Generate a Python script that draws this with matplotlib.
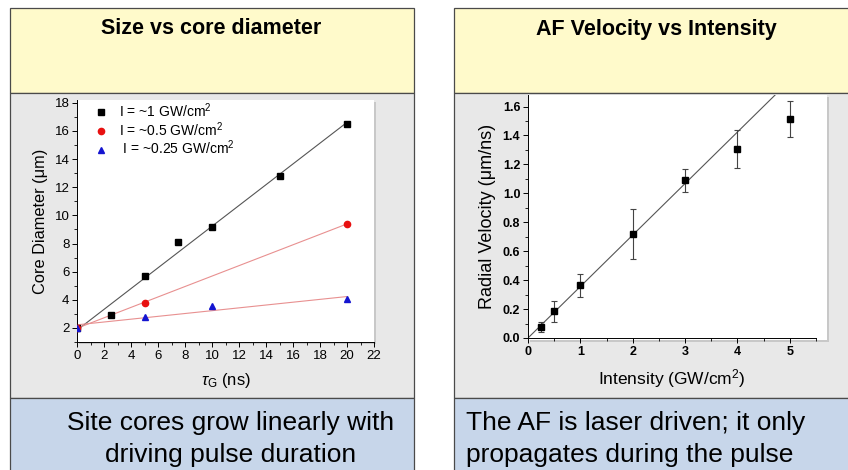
import numpy as np
import matplotlib
matplotlib.use("Agg")
import matplotlib.pyplot as plt
from matplotlib.patches import Rectangle
from matplotlib.ticker import MultipleLocator, FormatStrFormatter

plt.rcParams['font.family'] = ['Liberation Sans', 'DejaVu Sans']
plt.rcParams['mathtext.fontset'] = 'custom'
plt.rcParams['mathtext.rm'] = 'Liberation Sans'
plt.rcParams['mathtext.it'] = 'Liberation Sans:italic'

# Datos del panel izquierdo: diametro del nucleo frente a duracion del pulso
tau_1 = [0, 2.5, 5, 7.5, 10, 15, 20]
core_1 = [2.0, 2.9, 5.7, 8.1, 9.2, 12.8, 16.5]
tau_05 = [0, 5, 20]
core_05 = [2.0, 3.8, 9.4]
tau_025 = [0, 5, 10, 20]
core_025 = [2.0, 2.8, 3.55, 4.05]
labels_left = ["I = ~1 GW/cm$^2$", "I = ~0.5 GW/cm$^2$", " I = ~0.25 GW/cm$^2$"]

# Datos del panel derecho: velocidad radial frente a intensidad
intensity = [0.25, 0.5, 1, 2, 3, 4, 5]
velocity = [0.075, 0.185, 0.365, 0.72, 1.09, 1.305, 1.515]
vel_err = [0.036, 0.072, 0.08, 0.175, 0.078, 0.13, 0.125]
fit_slope = 0.356

titles = ["Size vs core diameter", "AF Velocity vs Intensity"]
captions_left = ["Site cores grow linearly with", "driving pulse duration"]
captions_right = ["The AF is laser driven; it only", "propagates during the pulse"]

W, H = 848, 470
fig = plt.figure(figsize=(W / 100, H / 100), dpi=100)


def box(x0, y0, x1, y1, color, z=0, ec='#4a4a4a', lw=0.9):
    # rectangulo en pixeles (origen arriba a la izquierda)
    r = Rectangle((x0 / W, 1 - y1 / H), (x1 - x0) / W, (y1 - y0) / H,
                  transform=fig.transFigure, facecolor=color, edgecolor=ec,
                  linewidth=lw, zorder=z)
    fig.add_artist(r)


# Cajas de fondo
for x0, x1 in [(9.5, 414), (454, 860)]:
    box(x0, 7.5, x1, 93, '#fffacb')
    box(x0, 93, x1, 398, '#e8e8e8')
    box(x0, 398, x1, 480, '#c7d6ea')

# Sombras y fondos blancos de los graficos
box(79, 102, 376, 344, '#c8c8c8', ec='none')
box(77, 100, 374, 342, 'white', ec='none')
box(530, 97, 829, 342, '#c8c8c8', ec='none')
box(528, 95, 827, 340, 'white', ec='none')

fig.text(211 / W, 1 - 29 / H, titles[0], ha='center', va='center',
         fontsize=15.5, fontweight='bold')
fig.text(656 / W, 1 - 29 / H, titles[1], ha='center', va='center',
         fontsize=15.5, fontweight='bold')
for i, line in enumerate(captions_left):
    fig.text(231 / W, 1 - (430 + 32 * i) / H, line, ha='center',
             va='baseline', fontsize=19)
for i, line in enumerate(captions_right):
    fig.text(466 / W, 1 - (430 + 32 * i) / H, line, ha='left',
             va='baseline', fontsize=19)

# Panel izquierdo
ax1 = fig.add_axes([77 / W, 1 - 342 / H, (374 - 77) / W, (342 - 100) / H])
ax1.patch.set_alpha(0)
ax1.plot(tau_1, core_1, 's', color='black', ms=4.5, label=labels_left[0], zorder=3)
ax1.plot(tau_05, core_05, 'o', color='#e81010', ms=4.5, label=labels_left[1], zorder=3)
ax1.plot(tau_025, core_025, '^', color='#1414d0', ms=5, label=labels_left[2], zorder=3)
xx = np.array([0, 20])
for tx, cy, col in [(tau_1, core_1, '#555555'), (tau_05, core_05, '#e89090'),
                    (tau_025, core_025, '#e89090')]:
    k, b = np.polyfit(tx, cy, 1)
    ax1.plot(xx, k * xx + b, '-', color=col, lw=0.8, zorder=2)
ax1.set_xlim(0, 22)
ax1.set_ylim(1, 18.2)
ax1.xaxis.set_major_locator(MultipleLocator(2))
ax1.xaxis.set_minor_locator(MultipleLocator(1))
ax1.yaxis.set_major_locator(MultipleLocator(2))
ax1.yaxis.set_minor_locator(MultipleLocator(1))
ax1.set_yticks(np.arange(2, 19, 2))
ax1.tick_params(labelsize=9.5, length=3.5, width=0.7, pad=2)
ax1.tick_params(which='minor', length=2, width=0.6)
ax1.set_xlabel(r"$\tau_{\mathrm{G}}$ (ns)", fontsize=12, labelpad=7)
ax1.set_ylabel("Core Diameter (μm)", fontsize=11.8, labelpad=5)
for s in ['top', 'right']:
    ax1.spines[s].set_visible(False)
for s in ['left', 'bottom']:
    ax1.spines[s].set_linewidth(0.7)
ax1.legend(loc='upper left', frameon=False, fontsize=10, handlelength=1,
           handletextpad=0.8, borderaxespad=0.2, labelspacing=0.02,
           bbox_to_anchor=(0.03, 1.03))

# Panel derecho
ax2 = fig.add_axes([528 / W, 1 - 338 / H, (816 - 528) / W, (338 - 95) / H])
ax2.patch.set_alpha(0)
ax2.errorbar(intensity, velocity, yerr=vel_err, fmt='s', color='black', ms=4,
             ecolor='#444444', elinewidth=0.8, capsize=2.5, capthick=0.8, zorder=3)
ax2.axline((0, 0), slope=fit_slope, color='#555555', lw=0.8, zorder=2)
ax2.set_xlim(0, 5.5)
ax2.set_ylim(0, 1.68)
ax2.xaxis.set_major_locator(MultipleLocator(1))
ax2.xaxis.set_minor_locator(MultipleLocator(0.5))
ax2.yaxis.set_major_locator(MultipleLocator(0.2))
ax2.yaxis.set_minor_locator(MultipleLocator(0.1))
ax2.yaxis.set_major_formatter(FormatStrFormatter('%.1f'))
ax2.tick_params(labelsize=9, length=3.5, width=0.7, pad=2)
ax2.tick_params(which='minor', length=2, width=0.6)
for lab in ax2.get_xticklabels() + ax2.get_yticklabels():
    lab.set_fontweight('bold')
ax2.set_xlabel("Intensity (GW/cm$^2$)", fontsize=12.5, labelpad=7)
ax2.set_ylabel("Radial Velocity (μm/ns)", fontsize=13, labelpad=5)
for s in ['top', 'right']:
    ax2.spines[s].set_visible(False)
for s in ['left', 'bottom']:
    ax2.spines[s].set_linewidth(0.7)

fig.savefig("out.png", dpi=100)
